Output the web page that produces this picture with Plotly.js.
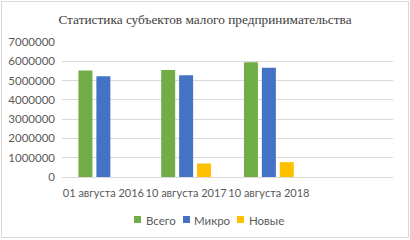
<!DOCTYPE html>
<html><head><meta charset="utf-8">
<script src="https://cdn.plot.ly/plotly-3.0.1.min.js"></script>
<style>
html,body{margin:0;padding:0;background:#fff;}
#wrap{position:absolute;left:0;top:0;width:410px;height:240px;}
#frame{position:absolute;left:1px;top:1px;width:406px;height:235px;border:1px solid #d9d9d9;pointer-events:none;}
#chart{width:410px;height:240px;}
</style></head>
<body>
<div id="wrap"><div id="chart"></div><div id="frame"></div></div>
<script>
const categories = ['01 августа 2016', '10 августа 2017', '10 августа 2018'];
const vsego = [5520000, 5550000, 5950000];
const mikro = [5220000, 5270000, 5660000];
const novye = [null, 700000, 770000];
const seriesNames = ['Всего', 'Микро', 'Новые'];
const tickVals = [0, 1000000, 2000000, 3000000, 4000000, 5000000, 6000000, 7000000];

const colors = ['#70AD47', '#4472C4', '#FFC000'];
const series = [vsego, mikro, novye];
const data = series.map((s, i) => ({
  type: 'bar', x: categories, y: s, name: seriesNames[i],
  marker: {color: colors[i]}, hoverinfo: 'none', showlegend: false
}));

// layout geometry (pixels)
const M = {l: 62, r: 17, t: 42, b: 63};
const PW = 410 - M.l - M.r, PH = 240 - M.t - M.b;
const px2x = p => (p - M.l) / PW;
const px2y = p => (240 - M.b - p) / PH;

// custom legend (Excel-style: small square + text)
const legSquareX = [134, 183, 237];
const legTextX = [143.5, 191.5, 246.5];
const shapes = [], annotations = [];
seriesNames.forEach((n, i) => {
  shapes.push({type: 'rect', xref: 'paper', yref: 'paper',
    x0: px2x(legSquareX[i]), x1: px2x(legSquareX[i] + 7),
    y0: px2y(223), y1: px2y(216), fillcolor: colors[i], line: {width: 0}});
  annotations.push({xref: 'paper', yref: 'paper', x: px2x(legTextX[i]), y: px2y(220),
    xanchor: 'left', yanchor: 'middle', showarrow: false, text: n,
    font: {size: 11.5, color: '#595959'}});
});

const layout = {
  width: 410, height: 240,
  margin: {l: M.l, r: M.r, t: M.t, b: M.b, pad: 0},
  paper_bgcolor: '#fff', plot_bgcolor: '#fff',
  font: {family: 'Lato, "Open Sans", sans-serif', size: 11.5, color: '#595959'},
  title: {text: 'Статистика субъектов малого предпринимательства',
    font: {family: '"Liberation Serif", "Times New Roman", serif', size: 13.3, color: '#404040'},
    x: 0.5, xanchor: 'center', y: 1 - 19/240, yanchor: 'middle', yref: 'container'},
  barmode: 'group', bargap: 0.35, bargroupgap: 0.22,
  xaxis: {type: 'category', range: [-0.5, 3.5], showgrid: false, zeroline: false,
    showline: false, ticks: '', tickangle: 0, ticklabelstandoff: 8,
    tickfont: {size: 11, color: '#595959'}, fixedrange: true},
  yaxis: {range: [0, 7000000], tickvals: tickVals, ticktext: tickVals.map(String),
    showgrid: true, gridcolor: '#d9d9d9', gridwidth: 1, zeroline: true, zerolinecolor: '#d9d9d9',
    showline: false, ticks: '', ticklabelstandoff: 6, tickfont: {size: 11.5, color: '#595959'}},
  showlegend: false,
  shapes: shapes,
  annotations: annotations
};
Plotly.newPlot('chart', data, layout, {staticPlot: true, displayModeBar: false});
</script>
</body></html>
